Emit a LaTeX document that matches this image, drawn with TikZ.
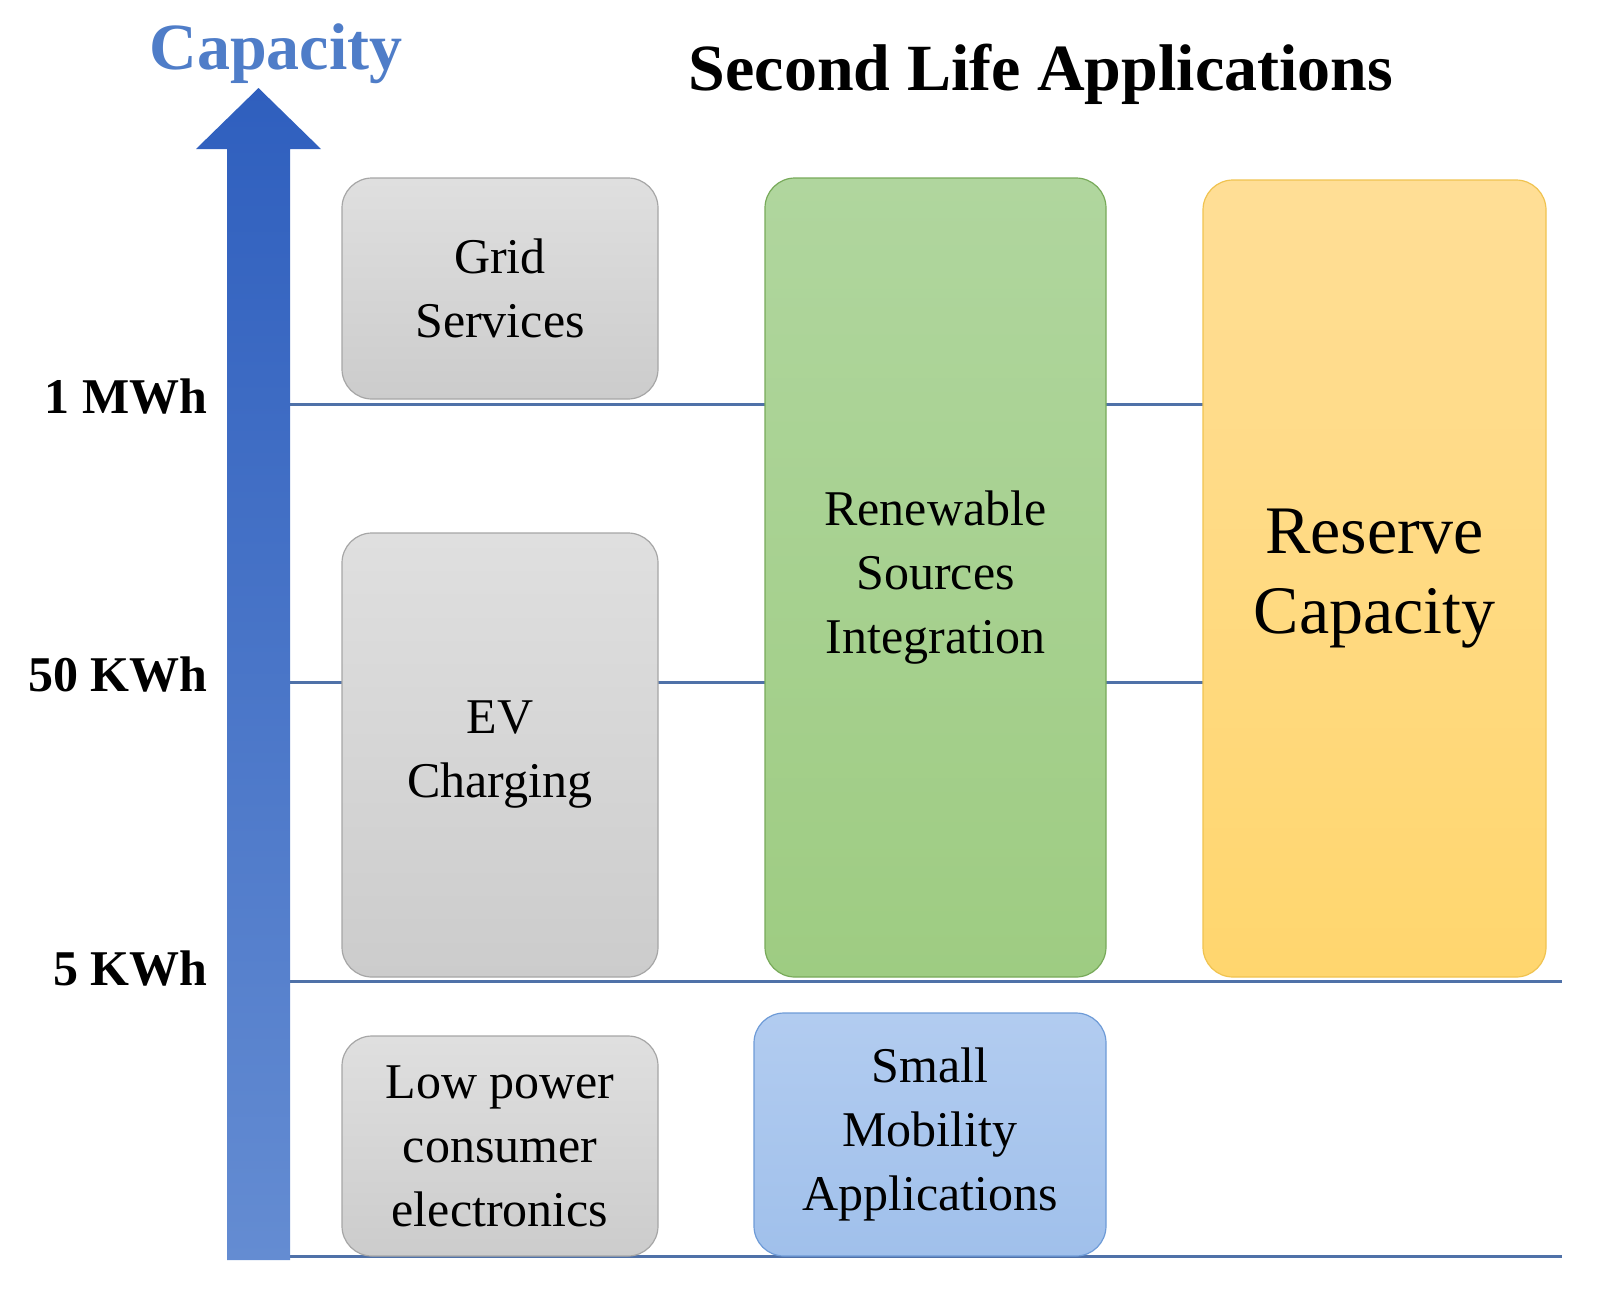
\documentclass[tikz,border=0pt]{standalone}
\usepackage{fontspec}
\setmainfont{Liberation Serif}
\begin{document}
\begin{tikzpicture}[x=1pt,y=-1pt,
  box/.style={draw, rounded corners=30pt, line width=1.2pt, align=center, font=\fontsize{50}{64}\selectfont},
  gray box/.style={box, draw=gray!70, top color=gray!25, bottom color=gray!40},
  lvl/.style={draw={rgb,255:red,79;green,113;blue,168}, line width=3pt},
  lab/.style={anchor=east, font=\bfseries\fontsize{50}{50}\selectfont}]
\useasboundingbox (0,0) rectangle (1615,1291);
% levels
\coordinate (l1a) at (290,404); \coordinate (l1b) at (1203,404);
\coordinate (l2a) at (290,682); \coordinate (l2b) at (1203,682);
\coordinate (l3a) at (290,981); \coordinate (l3b) at (1562,981);
\coordinate (l4a) at (290,1256); \coordinate (l4b) at (1562,1256);
\draw[lvl] (l1a) -- (l1b); \draw[lvl] (l2a) -- (l2b);
\draw[lvl] (l3a) -- (l3b); \draw[lvl] (l4a) -- (l4b);
% arrow
\shade[top color={rgb,255:red,47;green,95;blue,190}, bottom color={rgb,255:red,100;green,140;blue,210}]
 (227,1260) -- (227,149) -- (196,149) -- (258.5,88) -- (321,149) -- (290,149) -- (290,1260) -- cycle;
\node[font=\bfseries\fontsize{66}{66}\selectfont, text={rgb,255:red,79;green,125;blue,200}] (cap) at (276,54) {Capacity};
\node[font=\bfseries\fontsize{66}{66}\selectfont] (title) at (1041,74) {Second Life Applications};
\node[lab] (m1) at (211,397) {1 MWh};
\node[lab] (m2) at (211,675) {50 KWh};
\node[lab] (m3) at (211,969) {5 KWh};
% boxes
\node[gray box, minimum width=316pt, minimum height=221pt] (grid) at (500,288.5) {Grid\\Services};
\node[gray box, minimum width=316pt, minimum height=444pt] (ev) at (500,755) {EV\\Charging};
\node[gray box, minimum width=316pt, minimum height=220pt] (low) at (500,1146) {Low power\\consumer\\electronics};
\node[box, draw={rgb,255:red,120;green,170;blue,90}, top color={rgb,255:red,176;green,214;blue,158}, bottom color={rgb,255:red,158;green,204;blue,130}, minimum width=341pt, minimum height=799pt] (ren) at (935.5,577.5) {Renewable\\Sources\\Integration};
\node[box, draw={rgb,255:red,240;green,195;blue,80}, top color={rgb,255:red,255;green,222;blue,150}, bottom color={rgb,255:red,255;green,214;blue,110}, minimum width=343pt, minimum height=797pt, font=\fontsize{68}{80}\selectfont] (res) at (1374.5,578.5) {Reserve\\Capacity};
\node[box, draw={rgb,255:red,110;green,155;blue,215}, top color={rgb,255:red,178;green,204;blue,240}, bottom color={rgb,255:red,160;green,192;blue,235}, minimum width=352pt, minimum height=243pt] (mob) at (930,1134.5) {Small\\Mobility\\Applications};
\end{tikzpicture}
\end{document}
